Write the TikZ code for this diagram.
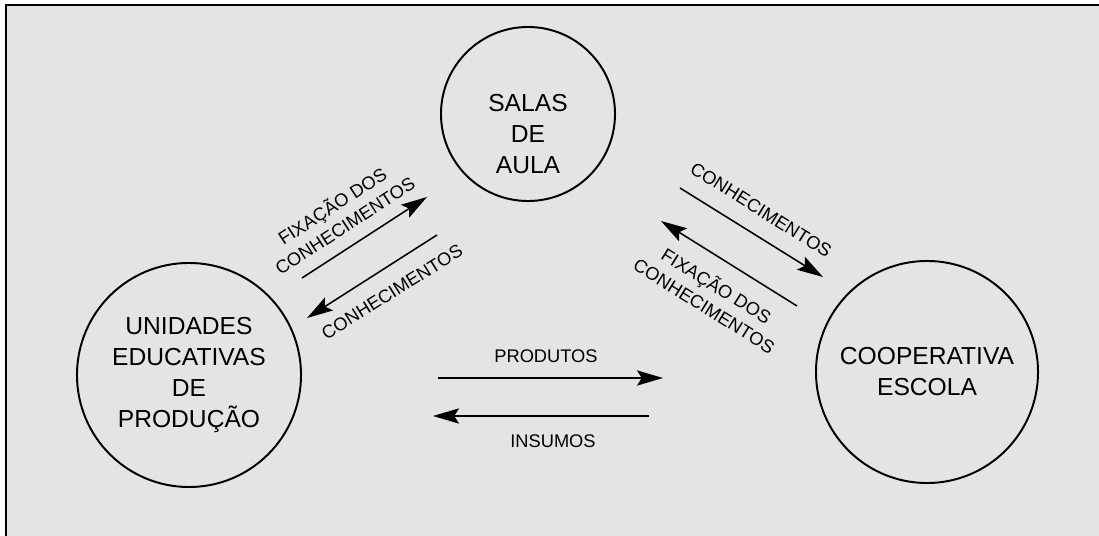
\documentclass[tikz,border=0pt]{standalone}
\usepackage{fontspec}
\setmainfont{Liberation Sans}
\usetikzlibrary{arrows.meta}
\definecolor{paper}{RGB}{228,228,228}

\begin{document}
\begin{tikzpicture}[x=0.025cm, y=-0.025cm,
  hub/.style={draw, circle, line width=1.4pt, inner sep=0pt, align=center,
    font=\fontsize{17.5}{22}\selectfont},
  flow/.style={line width=1.1pt, -{Stealth[length=6.5mm, width=3.8mm, inset=1.2mm]}},
  tag/.style={font=\fontsize{13}{16.5}\selectfont, align=center, inner sep=0pt}]
\useasboundingbox (0,0) rectangle (1099,536);
\fill [paper] (6,5) rectangle (1099,536);
\draw [line width=1.2pt] (6,536) -- (6,5) -- (1099,5);

% the three places
\node [hub, minimum size=4.35cm] (salas) at (528,114) {};
\node [align=center, font=\fontsize{17.5}{22}\selectfont] (salastxt) at (528,134) {SALAS\\DE\\AULA};
\node [hub, minimum size=5.6cm] (unidades) at (189,375) {UNIDADES\\EDUCATIVAS\\DE\\PRODUÇÃO};
\node [hub, minimum size=5.55cm] (coop) at (927,372) {COOPERATIVA\\ESCOLA};

% arrow ends
\coordinate (fixL-a) at (302,278);
\coordinate (fixL-b) at (427,197);
\coordinate (conL-a) at (437,235);
\coordinate (conL-b) at (307,318);
\coordinate (conR-a) at (680,188);
\coordinate (conR-b) at (823,277);
\coordinate (fixR-a) at (797,306);
\coordinate (fixR-b) at (661,221);
\coordinate (prod-a) at (438,378);
\coordinate (prod-b) at (663,378);
\coordinate (ins-a) at (649,416);
\coordinate (ins-b) at (433,416);

\draw [flow] (fixL-a) -- (fixL-b);
\draw [flow] (conL-a) -- (conL-b);
\draw [flow] (conR-a) -- (conR-b);
\draw [flow] (fixR-a) -- (fixR-b);
\draw [flow] (prod-a) -- (prod-b);
\draw [flow] (ins-a) -- (ins-b);

% labels
\node [tag, rotate=33] (fixLtxt) at (338,215) {FIXAÇÃO DOS\\CONHECIMENTOS};
\node [tag, rotate=32] (conLtxt) at (392,292) {CONHECIMENTOS};
\node [tag, rotate=-32] (conRtxt) at (761,210) {CONHECIMENTOS};
\node [tag, rotate=-32] (fixRtxt) at (711,295) {FIXAÇÃO DOS\\CONHECIMENTOS};
\node [tag] (prodtxt) at (546,356) {PRODUTOS};
\node [tag] (instxt) at (553,441) {INSUMOS};
\end{tikzpicture}
\end{document}
